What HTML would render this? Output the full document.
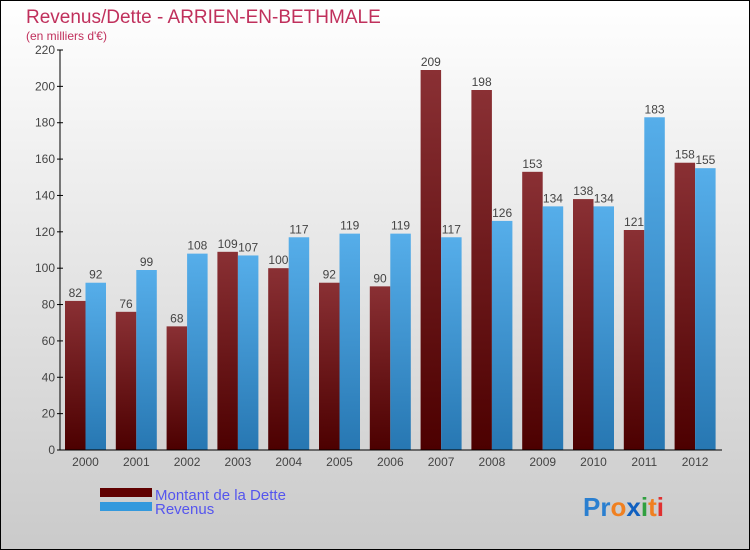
<!DOCTYPE html>
<html><head><meta charset="utf-8"><style>
body{margin:0}
svg{display:block;font-family:"Liberation Sans",sans-serif}
</style></head><body>
<svg id="c" width="750" height="550">
<defs>
<linearGradient id="bg" x1="0" y1="0" x2="0" y2="1"><stop offset="0" stop-color="#ffffff"/><stop offset="1" stop-color="#cacaca"/></linearGradient>
<linearGradient id="gd" x1="0" y1="0" x2="0" y2="1"><stop offset="0" stop-color="#8a3034"/><stop offset="1" stop-color="#4c0000"/></linearGradient>
<linearGradient id="gr" x1="0" y1="0" x2="0" y2="1"><stop offset="0" stop-color="#56aeea"/><stop offset="1" stop-color="#2777b2"/></linearGradient>
</defs>
<rect x="0.5" y="0.5" width="749" height="549" fill="url(#bg)" stroke="#000"/>
<text x="26" y="23" font-size="19" fill="#c0305c">Revenus/Dette - ARRIEN-EN-BETHMALE</text>
<text x="26" y="40" font-size="12" fill="#c0305c">(en milliers d'€)</text>
<g id="plot"></g>
<rect x="100" y="488" width="52" height="9" fill="#600000"/>
<rect x="100" y="502" width="52" height="9" fill="#3399dd"/>
<text x="155" y="500" font-size="15" fill="#5555ee">Montant de la Dette</text>
<text x="155" y="514" font-size="15" fill="#5555ee">Revenus</text>
<text x="583" y="516" font-size="26" font-weight="bold"><tspan fill="#2a7fd0">Pr</tspan><tspan fill="#f08020">o</tspan><tspan fill="#1060c0">x</tspan><tspan fill="#30a040">i</tspan><tspan fill="#f08020">t</tspan><tspan fill="#e03030">i</tspan></text>
</svg>
<script>
const categories=["2000","2001","2002","2003","2004","2005","2006","2007","2008","2009","2010","2011","2012"];
const dette=[82,76,68,109,100,92,90,209,198,153,138,121,158];
const revenus=[92,99,108,107,117,119,119,117,126,134,134,183,155];
const yTicks=[0,20,40,60,80,100,120,140,160,180,200,220];
const NS="http://www.w3.org/2000/svg";
const g=document.getElementById('plot');
const x0=60,x1=722,yB=450,yT=50,yMax=220;
const y=v=>yB-v/yMax*(yB-yT);
const step=50.8,first=65,bw=20.5;
function mk(t,a,txt){const e=document.createElementNS(NS,t);for(const k in a)e.setAttribute(k,a[k]);if(txt!=null)e.textContent=txt;g.appendChild(e);return e;}
yTicks.forEach(v=>{
  const t=mk('text',{x:x0-5,y:y(v)+4,'font-size':12,fill:'#444','text-anchor':'end'},v);
  
  
  const l=mk('line',{x1:x0-3,x2:x0+3,y1:y(v),y2:y(v),stroke:'#000'});
  
  
});
categories.forEach((c,i)=>{
  const xd=first+i*step;
  const b1=mk('rect',{x:xd,y:y(dette[i]),width:bw,height:yB-y(dette[i]),fill:'url(#gd)'});
  
  
  const b2=mk('rect',{x:xd+bw,y:y(revenus[i]),width:bw,height:yB-y(revenus[i]),fill:'url(#gr)'});
  
  
  const v1=mk('text',{x:xd+bw/2,y:y(dette[i])-4,'font-size':12,fill:'#444','text-anchor':'middle'},dette[i]);
  
  
  const v2=mk('text',{x:xd+bw*1.5,y:y(revenus[i])-4,'font-size':12,fill:'#444','text-anchor':'middle'},revenus[i]);
  
  
  const xl=mk('text',{x:xd+bw,y:yB+16,'font-size':12,fill:'#444','text-anchor':'middle'},c);
  
  
});
const ya=mk('line',{x1:x0,x2:x0,y1:yT,y2:yB,stroke:'#000'});


const xa=mk('line',{x1:x0,x2:x1,y1:yB,y2:yB,stroke:'#000'});


</script>
</body></html>
